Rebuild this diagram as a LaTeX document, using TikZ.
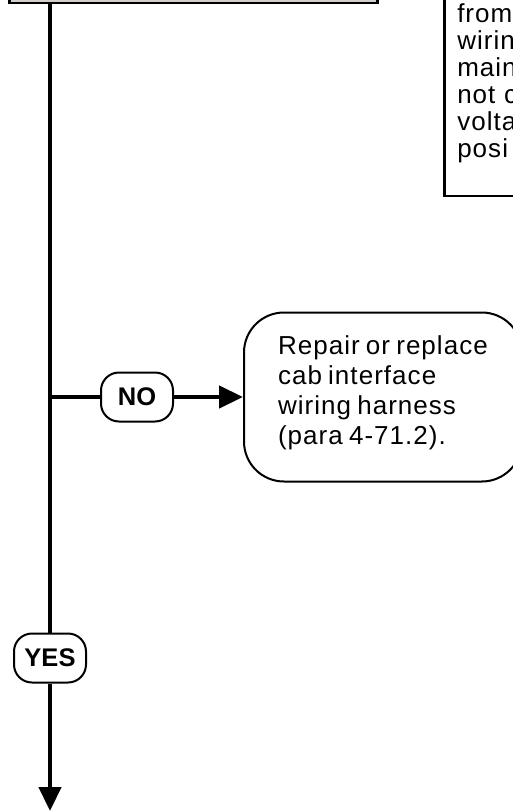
\documentclass[tikz,border=0pt]{standalone}
\usepackage{fontspec}
\setmainfont{Liberation Sans}
\newfontfamily\stepfont[LetterSpace=4, WordSpace=0.75]{Liberation Sans}
\usetikzlibrary{positioning,arrows.meta}
\definecolor{boxgray}{HTML}{D3CEC9}

\begin{document}
\begin{tikzpicture}[
x=1pt, y=-1pt,
flow/.style={line width=4.5pt, black},
arrow/.style={flow, -{Triangle[length=24pt, width=22pt]}},
answer/.style={draw, line width=2pt, rounded corners=18pt, minimum width=72pt, minimum height=49pt, inner sep=0pt, fill=white, font=\fontsize{25.5}{28}\selectfont\bfseries},
actbox/.style={draw, line width=2pt, rounded corners=40pt, align=left, minimum height=169pt, inner xsep=34pt, fill=white, font=\fontsize{26}{30}\stepfont},
note/.style={draw, line width=2.5pt, align=left, text width=200pt, inner xsep=13pt, inner ysep=33pt, font=\fontsize{26}{27}\stepfont}
]
\clip[use as bounding box] (0,0) rectangle (513,811);

\node[draw, line width=2.5pt, fill=boxgray, minimum width=368pt, minimum height=60pt, anchor=south west] (check) at (8,4) {};
\node[note, anchor=south west] (note) at (443,197) {from\\wirin\\main\\not c\\volta\\posi};

\coordinate (spine) at (50,0);
\coordinate (branch) at (50,397);
\coordinate (finish) at (50,811);

\node[answer] (no) at (137,397) {NO};
\node[actbox, anchor=west] (repair) at (243,397) {Repair or replace\\cab interface\\wiring harness\\(para 4-71.2).\rule[-14pt]{0pt}{1pt}};
\node[answer] (yes) at (50,658) {YES};

\draw[flow] (check.south -| spine) -- (yes);
\draw[arrow] (yes) -- (finish);
\draw[flow] (branch) -- (no);
\draw[arrow] (no) -- (repair);
\end{tikzpicture}
\end{document}
